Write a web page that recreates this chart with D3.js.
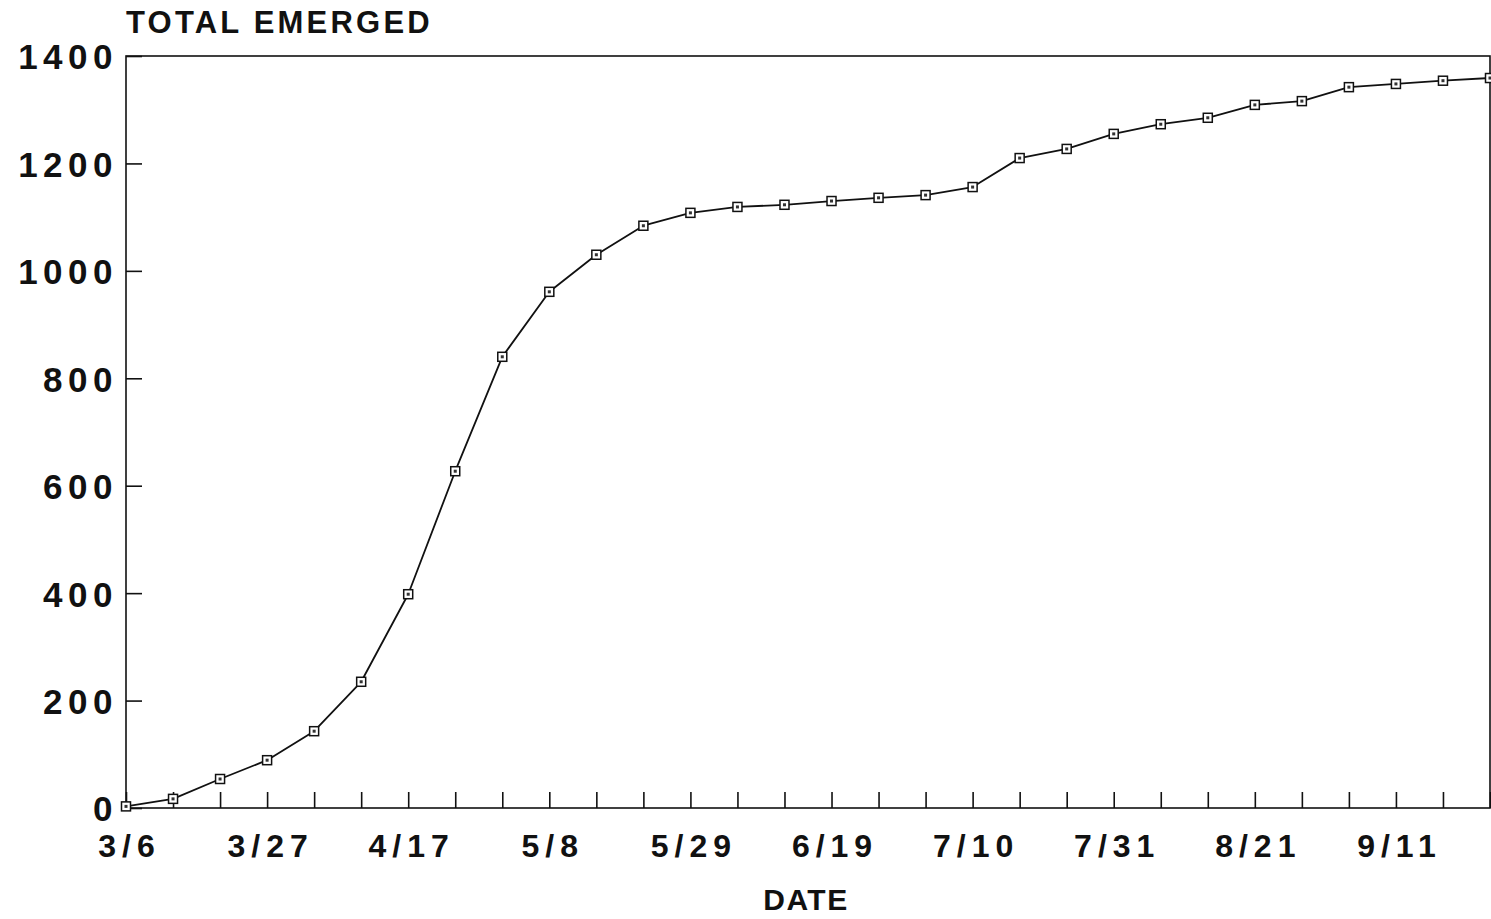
<!DOCTYPE html>
<html>
<head>
<meta charset="utf-8">
<script src="https://cdn.jsdelivr.net/npm/d3@7"></script>
<style>
  html, body { margin: 0; padding: 0; background: #fff; }
  svg { display: block; }
  text { font-family: "Liberation Sans", Arial, Helvetica, sans-serif; font-weight: bold; fill: #111; }
</style>
</head>
<body>
<svg id="chart" width="1491" height="919"></svg>
<script>
// Weekly sample dates (month/day)
const dates = ["3/6","3/13","3/20","3/27","4/3","4/10","4/17","4/24","5/1","5/8",
               "5/15","5/22","5/29","6/5","6/12","6/19","6/26","7/3","7/10","7/17",
               "7/24","7/31","8/7","8/14","8/21","8/28","9/4","9/11","9/18","9/25"];
// Cumulative count emerged at each date
const totalEmerged = [3, 17, 54, 89, 143, 235, 398, 627, 840, 961,
                      1030, 1084, 1108, 1119, 1123, 1130, 1136, 1141, 1156, 1210,
                      1227, 1255, 1273, 1285, 1309, 1316, 1342, 1348, 1354, 1359];
// Dates that carry a label on the x axis
const xTickLabels = ["3/6","3/27","4/17","5/8","5/29","6/19","7/10","7/31","8/21","9/11"];
const yTickValues = [0, 200, 400, 600, 800, 1000, 1200, 1400];

const svg = d3.select("#chart");
const plot = { left: 126, right: 1490, top: 56, bottom: 808 };

const x = d3.scalePoint().domain(dates).range([plot.left, plot.right]);
const y = d3.scaleLinear().domain([0, 1400]).range([plot.bottom, plot.top]);

// Plot frame
svg.append("rect")
  .attr("x", plot.left).attr("y", plot.top)
  .attr("width", plot.right - plot.left).attr("height", plot.bottom - plot.top)
  .attr("fill", "none").attr("stroke", "#111").attr("stroke-width", 1.6);

// X axis: inward weekly ticks, labels every third week
const xAxis = d3.axisBottom(x)
  .tickSizeInner(-16).tickSizeOuter(0).tickPadding(26)
  .tickFormat(d => xTickLabels.includes(d) ? d : "");
const gx = svg.append("g").attr("transform", `translate(0,${plot.bottom})`).call(xAxis);
gx.select(".domain").remove();
gx.selectAll(".tick line").attr("stroke", "#111").attr("stroke-width", 1.6);
gx.selectAll(".tick text")
  .style("font-size", "32px").style("letter-spacing", "6px")
  .attr("fill", "#111").attr("dx", "3px");

// Y axis: inward ticks
const yAxis = d3.axisLeft(y)
  .tickValues(yTickValues)
  .tickFormat(d3.format("d"))
  .tickSizeInner(-16).tickSizeOuter(0).tickPadding(8);
const gy = svg.append("g").attr("transform", `translate(${plot.left},0)`).call(yAxis);
gy.select(".domain").remove();
gy.selectAll(".tick line").attr("stroke", "#111").attr("stroke-width", 1.6);
gy.selectAll(".tick text")
  .style("font-size", "35px").style("letter-spacing", "5.5px")
  .attr("fill", "#111").attr("dy", "0.37em");

// Titles
svg.append("text")
  .attr("x", 126).attr("y", 33)
  .style("font-size", "31px").style("letter-spacing", "3.2px")
  .text("TOTAL EMERGED");
svg.append("text")
  .attr("x", 806).attr("y", 910)
  .attr("text-anchor", "middle")
  .style("font-size", "30px").style("letter-spacing", "1.5px")
  .text("DATE");

// Cumulative line
const pts = dates.map((d, i) => ({ d, v: totalEmerged[i] }));
svg.append("path")
  .datum(pts)
  .attr("fill", "none").attr("stroke", "#111").attr("stroke-width", 1.8)
  .attr("stroke-linejoin", "round")
  .attr("d", d3.line().x(p => x(p.d)).y(p => y(p.v)));

// Square markers with a small centre dot
const m = svg.append("g").selectAll("g").data(pts).join("g")
  .attr("transform", p => `translate(${x(p.d)},${y(p.v)})`);
m.append("rect")
  .attr("x", -4.5).attr("y", -4.5).attr("width", 9).attr("height", 9)
  .attr("fill", "#fff").attr("stroke", "#111").attr("stroke-width", 1.5);
m.append("rect")
  .attr("x", -1.5).attr("y", -1.5).attr("width", 3).attr("height", 3)
  .attr("fill", "#333");
</script>
</body>
</html>
